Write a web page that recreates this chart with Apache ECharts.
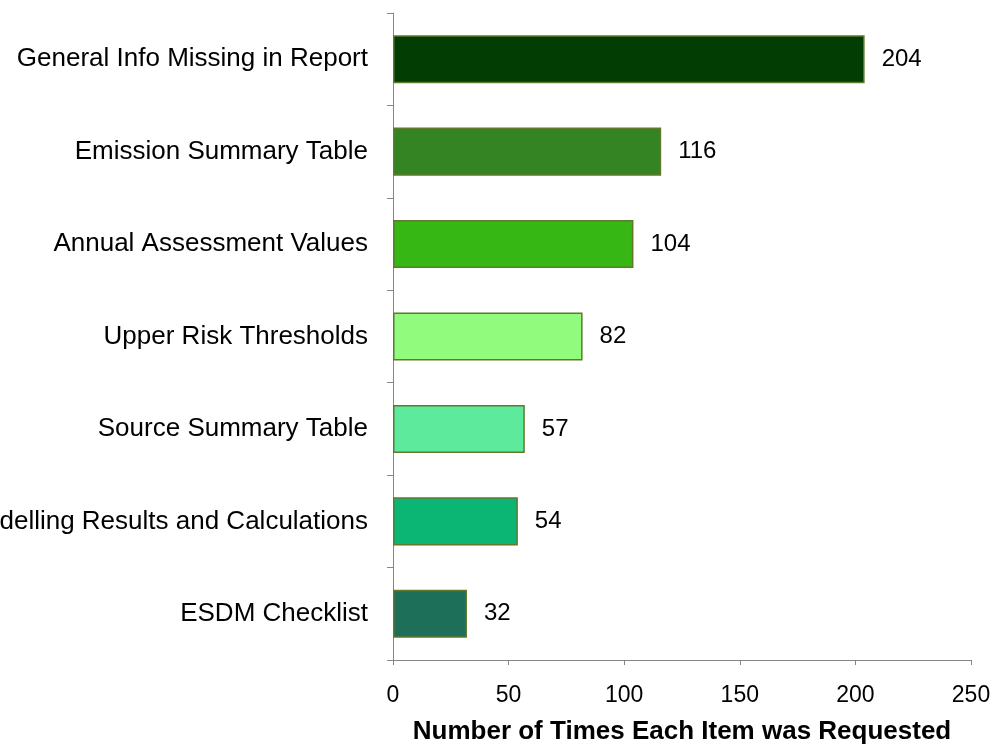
<!DOCTYPE html>
<html>
<head>
<meta charset="utf-8">
<script src="https://cdn.jsdelivr.net/npm/echarts@6/dist/echarts.min.js"></script>
<style>
  html, body { margin: 0; padding: 0; background: #fff; }
  #chart { width: 998px; height: 746px; }
</style>
</head>
<body>
<div id="chart"></div>
<script>
const categories = [
  'General Info Missing in Report',
  'Emission Summary Table',
  'Annual Assessment Values',
  'Upper Risk Thresholds',
  'Source Summary Table',
  'Modelling Results and Calculations',
  'ESDM Checklist'
]
const counts = [204, 116, 104, 82, 57, 54, 32]
const barColors = ['#023d04', '#358424', '#36b714', '#90fb7c', '#5eea9d', '#0bb674', '#1e6f59']
const xTicks = [0, 50, 100, 150, 200, 250]

const chart = echarts.init(document.getElementById('chart'))

const font = 'Liberation Sans, Arial, sans-serif'

chart.setOption({
  animation: false,
  grid: {
    left: 393, right: 27, top: 13, bottom: 86,
    containLabel: false,
    outerBoundsMode: 'none'
  },
  xAxis: {
    type: 'value',
    min: xTicks[0],
    max: xTicks[xTicks.length - 1],
    interval: 50,
    name: 'Number of Times Each Item was Requested',
    nameLocation: 'middle',
    nameGap: 59,
    nameTextStyle: { fontFamily: font, fontSize: 26, fontWeight: 'bold', color: '#000' },
    axisLine: { show: true, lineStyle: { color: '#868686', width: 1 } },
    axisTick: { show: true, length: 5, lineStyle: { color: '#868686' } },
    axisLabel: { fontFamily: font, fontSize: 23, color: '#000', margin: 24 },
    splitLine: { show: false }
  },
  yAxis: {
    type: 'category',
    data: categories,
    inverse: true,
    axisLine: { show: true, lineStyle: { color: '#868686', width: 1 } },
    axisTick: { show: true, length: 6, lineStyle: { color: '#868686' } },
    axisLabel: { fontFamily: font, fontSize: 26, color: '#000', margin: 25 }
  },
  series: [{
    type: 'bar',
    data: counts.map((v, i) => ({ value: v, itemStyle: { color: barColors[i] } })),
    barWidth: '52%',
    itemStyle: { borderColor: '#5f7a2c', borderWidth: 1.5 },
    label: {
      show: true,
      position: 'right',
      distance: 17,
      fontFamily: font,
      fontSize: 24,
      color: '#000'
    }
  }]
})
</script>
</body>
</html>
